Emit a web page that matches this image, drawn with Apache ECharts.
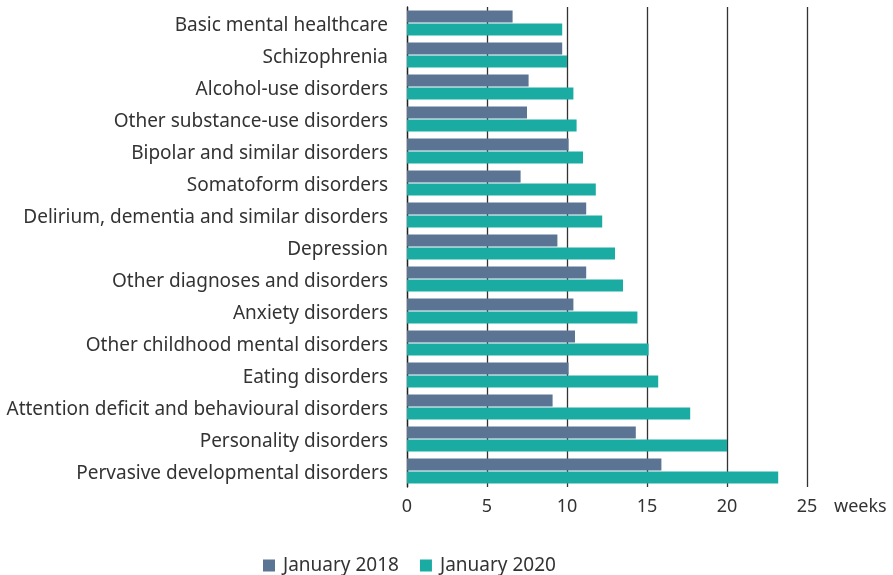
<!DOCTYPE html>
<html>
<head>
<meta charset="utf-8">
<script src="https://cdn.jsdelivr.net/npm/echarts@6/dist/echarts.min.js"></script>
<style>
  html, body { margin: 0; padding: 0; background: #fff; }
  #chart { width: 893px; height: 575px; }
</style>
</head>
<body>
<div id="chart"></div>
<script>
// Waiting times (weeks) by diagnosis group
const categories = [
  'Basic mental healthcare',
  'Schizophrenia',
  'Alcohol-use disorders',
  'Other substance-use disorders',
  'Bipolar and similar disorders',
  'Somatoform disorders',
  'Delirium, dementia and similar disorders',
  'Depression',
  'Other diagnoses and disorders',
  'Anxiety disorders',
  'Other childhood mental disorders',
  'Eating disorders',
  'Attention deficit and behavioural disorders',
  'Personality disorders',
  'Pervasive developmental disorders'
];
const jan2018 = [6.6, 9.7, 7.6, 7.5, 10.1, 7.1, 11.2, 9.4, 11.2, 10.4, 10.5, 10.1, 9.1, 14.3, 15.9];
const jan2020 = [9.7, 10.0, 10.4, 10.6, 11.0, 11.8, 12.2, 13.0, 13.5, 14.4, 15.1, 15.7, 17.7, 20.0, 23.2];
const seriesNames = ['January 2018', 'January 2020'];
const axisTicks = [0, 5, 10, 15, 20, 25];

const FONT = 'Noto Sans';
const chart = echarts.init(document.getElementById('chart'));
chart.setOption({
  animation: false,
  textStyle: { fontFamily: FONT, color: '#333' },
  legend: {
    left: 258,
    top: 551,
    itemWidth: 12,
    itemHeight: 12,
    itemGap: 21,
    icon: 'rect',
    textStyle: { fontFamily: FONT, fontSize: 19, color: '#333', padding: [0, 0, 0, 3] },
    data: seriesNames
  },
  grid: { left: 407, right: 86, top: 7, height: 480, containLabel: false },
  xAxis: {
    type: 'value',
    min: axisTicks[0],
    max: axisTicks[axisTicks.length - 1],
    interval: 5,
    name: 'weeks',
    nameLocation: 'end',
    nameGap: 27,
    nameTextStyle: { fontFamily: FONT, fontSize: 18, color: '#333', verticalAlign: 'top', padding: [11, 0, 0, 0] },
    axisLine: { show: false },
    axisTick: { show: false },
    axisLabel: { fontFamily: FONT, fontSize: 18, color: '#333', margin: 11 },
    splitLine: { show: true, lineStyle: { color: '#333', width: 1.3 } }
  },
  yAxis: {
    type: 'category',
    inverse: true,
    data: categories,
    axisLine: { show: true, lineStyle: { color: '#222', width: 1.3 } },
    axisTick: { show: false },
    // labels sit a few pixels below the centre of each bar pair
    axisLabel: { fontFamily: FONT, fontSize: 19, color: '#333', margin: 19, verticalAlign: 'top', lineHeight: 6 }
  },
  series: [
    {
      name: seriesNames[0],
      type: 'bar',
      data: jan2018,
      barWidth: 12,
      barGap: '8%',
      itemStyle: { color: '#5b7494' }
    },
    {
      name: seriesNames[1],
      type: 'bar',
      data: jan2020,
      barWidth: 12,
      barGap: '8%',
      itemStyle: { color: '#1aaba3' }
    }
  ]
});
</script>
</body>
</html>
